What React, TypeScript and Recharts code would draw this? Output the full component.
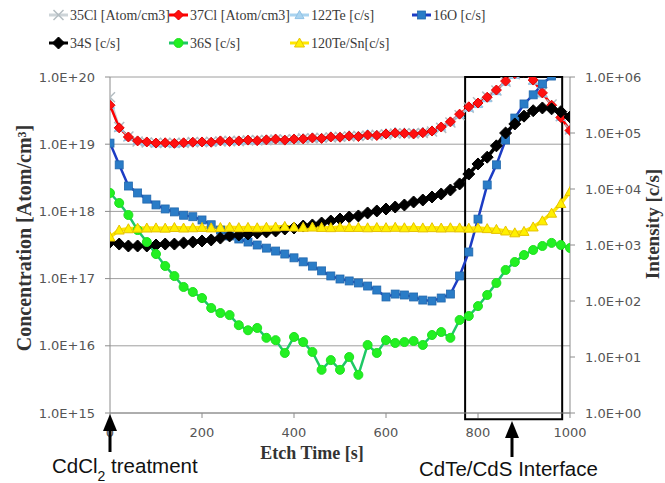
import { ComposedChart, Line, XAxis, YAxis, CartesianGrid, ReferenceArea } from 'recharts';

// etch time [s], one SIMS point every 20 s
const etchTime = [
  0, 20, 40, 60, 80, 100, 120, 140, 160, 180,
  200, 220, 240, 260, 280, 300, 320, 340, 360, 380,
  400, 420, 440, 460, 480, 500, 520, 540, 560, 580,
  600, 620, 640, 660, 680, 700, 720, 740, 760, 780,
  800, 820, 840, 860, 880, 900, 920, 940, 960, 980,
  1000,
];

// concentration [Atom/cm3], left axis
const cl35 = [
  5.0e19, 1.8e19, 1.3e19, 1.1e19, 1.06e19, 1.05e19, 1.04e19, 1.05e19, 1.04e19, 1.08e19,
  1.07e19, 1.09e19, 1.1e19, 1.12e19, 1.11e19, 1.14e19, 1.15e19, 1.15e19, 1.17e19, 1.18e19,
  1.18e19, 1.22e19, 1.22e19, 1.25e19, 1.26e19, 1.29e19, 1.3e19, 1.33e19, 1.34e19, 1.38e19,
  1.4e19, 1.44e19, 1.46e19, 1.45e19, 1.47e19, 1.55e19, 1.75e19, 2.1e19, 2.7e19, 3.5e19,
  4.2e19, 5.1e19, 6.3e19, 8.5e19, 1.1e20, 1.2e20, 9.2e19, 6.0e19, 3.9e19, 2.6e19,
  1.65e19,
];
const cl37 = [
  3.8e19, 1.75e19, 1.28e19, 1.12e19, 1.08e19, 1.04e19, 1.05e19, 1.03e19, 1.05e19, 1.07e19,
  1.08e19, 1.07e19, 1.12e19, 1.1e19, 1.12e19, 1.15e19, 1.13e19, 1.16e19, 1.19e19, 1.15e19,
  1.19e19, 1.2e19, 1.24e19, 1.22e19, 1.28e19, 1.27e19, 1.32e19, 1.3e19, 1.37e19, 1.35e19,
  1.42e19, 1.47e19, 1.45e19, 1.42e19, 1.48e19, 1.57e19, 1.8e19, 2.15e19, 2.8e19, 3.6e19,
  4.1e19, 5.0e19, 6.4e19, 8.7e19, 1.12e20, 1.18e20, 9.0e19, 5.8e19, 3.8e19, 2.5e19,
  1.6e19,
];

// intensity [c/s], right axis
const te122 = [
  3.2e5, 1.25e5, 8.5e4, 7.3e4, 7.0e4, 6.6e4, 6.7e4, 6.5e4, 6.7e4, 6.9e4,
  7.0e4, 6.9e4, 7.3e4, 7.2e4, 7.3e4, 7.6e4, 7.4e4, 7.7e4, 8.0e4, 7.6e4,
  8.0e4, 8.1e4, 8.4e4, 8.3e4, 8.8e4, 8.7e4, 9.2e4, 9.0e4, 9.6e4, 9.4e4,
  1.0e5, 1.05e5, 1.03e5, 1.0e5, 1.06e5, 1.12e5, 1.3e5, 1.6e5, 2.15e5, 2.85e5,
  3.3e5, 4.2e5, 5.6e5, 8.3e5, 1.1e6, 1.2e6, 8.6e5, 5.1e5, 3.2e5, 1.95e5,
  1.15e5,
];
const o16 = [
  6.6e4, 2.7e4, 1.13e4, 8500, 6600, 5200, 4400, 3900, 3400, 3200,
  2800, 2300, 1850, 1450, 1280, 1130, 1000, 880, 780, 690,
  590, 500, 420, 345, 280, 247, 228, 210, 185, 157,
  118, 133, 128, 118, 104, 100, 113, 133, 280, 750,
  2900, 1.18e4, 2.7e4, 7.5e4, 1.85e5, 3.3e5, 4.8e5, 7.5e5, 1.04e6, 1.6e6,
  2.5e6,
];
const s34 = [
  1130, 1040, 960, 960, 960, 1000, 1040, 1040, 1090, 1130,
  1180, 1230, 1330, 1450, 1510, 1570, 1640, 1710, 1780, 1930,
  2010, 2180, 2280, 2470, 2680, 2910, 3160, 3300, 3730, 4050,
  4390, 4770, 5180, 5860, 6360, 7200, 8150, 9600, 1.23e4, 1.85e4,
  2.8e4, 3.7e4, 5.9e4, 1.0e5, 1.45e5, 2.0e5, 2.5e5, 2.8e5, 2.7e5, 2.4e5,
  1.93e5,
];
const s36 = [
  8490, 5620, 3430, 1850, 1130, 690, 422, 279, 178, 145,
  113, 75, 61, 56, 37, 30, 33, 22, 20, 11.8,
  22.8, 18.5, 12.3, 5.9, 8.8, 5.9, 10, 4.8, 16.4, 11.8,
  20, 17.8, 18.5, 19.3, 16.4, 24.7, 27.9, 22, 45.8, 54,
  81, 128, 210, 358, 497, 662, 815, 960, 1090, 1000,
  884,
];
const te120 = [
  1390, 1850, 1950, 2000, 2010, 2020, 2000, 2050, 2010, 2030,
  2060, 2020, 2050, 2080, 2040, 2060, 2030, 2070, 2100, 2150,
  2100, 2070, 2090, 2060, 2040, 2070, 2050, 2060, 2030, 2050,
  2040, 2070, 2030, 2050, 2020, 2040, 2010, 2030, 2020, 2000,
  2010, 1960, 1900, 1780, 1650, 1750, 2100, 2700, 3700, 5500,
  9000,
];

const xTicks = [0, 200, 400, 600, 800, 1000];
const leftTicks = [1e15, 1e16, 1e17, 1e18, 1e19, 1e20];
const rightTicks = [1, 10, 100, 1e3, 1e4, 1e5, 1e6];
const interfaceRange = [772, 983];

const data = etchTime.map((t, i) => ({
  t,
  cl35: cl35[i],
  cl37: cl37[i],
  te122: te122[i],
  o16: o16[i],
  s34: s34[i],
  s36: s36[i],
  te120: te120[i],
}));

type Marker = 'x' | 'diamond' | 'triangle' | 'square' | 'circle';

interface Series {
  key: string;
  name: string;
  axis: 'left' | 'right';
  line: string;
  width: number;
  marker: Marker;
  fill: string;
  stroke: string;
  size: number;
}

// legend order
const series: Series[] = [
  { key: 'cl35', name: '35Cl [Atom/cm3]', axis: 'left', line: '#cdd4d8', width: 2, marker: 'x', fill: 'none', stroke: '#b3bcc1', size: 5 },
  { key: 'cl37', name: '37Cl [Atom/cm3]', axis: 'left', line: '#ff0000', width: 2.5, marker: 'diamond', fill: '#ff1010', stroke: '#e00000', size: 5 },
  { key: 'te122', name: '122Te [c/s]', axis: 'right', line: '#a9d3ef', width: 2, marker: 'triangle', fill: '#a9d3ef', stroke: '#8fc2e6', size: 4.5 },
  { key: 'o16', name: '16O [c/s]', axis: 'right', line: '#1c3cc4', width: 2.5, marker: 'square', fill: '#2a7cc7', stroke: '#2268ad', size: 4 },
  { key: 's34', name: '34S [c/s]', axis: 'right', line: '#000000', width: 3.5, marker: 'diamond', fill: '#000000', stroke: '#000000', size: 6 },
  { key: 's36', name: '36S [c/s]', axis: 'right', line: '#1ec865', width: 2.5, marker: 'circle', fill: '#22f022', stroke: '#1fe01f', size: 4.5 },
  { key: 'te120', name: '120Te/Sn[c/s]', axis: 'right', line: '#ffe600', width: 3.5, marker: 'triangle', fill: '#fff000', stroke: '#e6c200', size: 5 },
];

// drawing order: 122Te sits underneath the chlorine trace
const drawOrder = ['cl35', 'te122', 'cl37', 'o16', 's34', 's36', 'te120'];

function markerShape(m: Marker, cx: number, cy: number, s: number, fill: string, stroke: string, key?: string) {
  switch (m) {
    case 'x':
      return (
        <g key={key} stroke={stroke} strokeWidth={1.5}>
          <line x1={cx - s} y1={cy - s} x2={cx + s} y2={cy + s} />
          <line x1={cx - s} y1={cy + s} x2={cx + s} y2={cy - s} />
        </g>
      );
    case 'diamond':
      return (
        <polygon key={key} points={`${cx},${cy - s} ${cx + s},${cy} ${cx},${cy + s} ${cx - s},${cy}`} fill={fill} stroke={stroke} strokeWidth={1} />
      );
    case 'triangle':
      return (
        <polygon key={key} points={`${cx},${cy - s} ${cx + s},${cy + s * 0.8} ${cx - s},${cy + s * 0.8}`} fill={fill} stroke={stroke} strokeWidth={1} />
      );
    case 'square':
      return <rect key={key} x={cx - s} y={cy - s} width={s * 2} height={s * 2} fill={fill} stroke={stroke} strokeWidth={0.8} />;
    default:
      return <circle key={key} cx={cx} cy={cy} r={s} fill={fill} stroke={stroke} strokeWidth={1} />;
  }
}

function dotFor(s: Series) {
  // eslint-disable-next-line @typescript-eslint/no-explicit-any
  return (props: any) => {
    const { cx, cy, index } = props;
    const key = `${s.key}-${index}`;
    if (cx == null || cy == null || Number.isNaN(cx) || Number.isNaN(cy)) return <g key={key} />;
    return markerShape(s.marker, cx, cy, s.size, s.fill, s.stroke, key);
  };
}

function expLabel(v: number) {
  const e = Math.round(Math.log10(v));
  return `1.0E+${String(e).padStart(2, '0')}`;
}

const tickStyle = { fontSize: 13, fill: '#555', fontFamily: '"DejaVu Sans", sans-serif' };
const serif = '"Liberation Serif", "Times New Roman", serif';
const sans = '"Liberation Sans", Arial, sans-serif';

function Overlay() {
  const colX = [49, 169, 290, 412];
  return (
    <svg width={665} height={483} style={{ position: 'absolute', left: 0, top: 0, pointerEvents: 'none' }}>
      {series.map((s, i) => {
        const row = i < 4 ? 0 : 1;
        const col = i < 4 ? i : i - 4;
        const x = colX[col];
        const y = row === 0 ? 15 : 43;
        return (
          <g key={s.key}>
            <line x1={x} y1={y} x2={x + 19} y2={y} stroke={s.line} strokeWidth={3} />
            {markerShape(s.marker, x + 9.5, y, s.size, s.fill, s.stroke)}
            <text x={x + 21} y={y + 5} fontSize={14} fontFamily={serif} fill="#3a3a3a">
              {s.name}
            </text>
          </g>
        );
      })}

      <text
        x={24}
        y={238}
        transform="rotate(-90, 24, 238)"
        textAnchor="middle"
        dominantBaseline="central"
        fontSize={20}
        fontWeight="bold"
        fontFamily={serif}
        fill="#333"
      >
        Concentration [Atom/cm³]
      </text>
      <text
        x={652}
        y={224}
        transform="rotate(-90, 652, 224)"
        textAnchor="middle"
        dominantBaseline="central"
        fontSize={19}
        fontWeight="bold"
        fontFamily={serif}
        fill="#333"
      >
        Intensity [c/s]
      </text>
      <text x={312} y={459} textAnchor="middle" fontSize={18} fontWeight="bold" fontFamily={serif} fill="#333">
        Etch Time [s]
      </text>

      {/* CdCl2 arrow */}
      <polygon points="110,414 103,431 117,431" fill="#000" />
      <rect x={108.5} y={430} width={3} height={22} fill="#000" />
      <text x={52} y={473} fontSize={20.5} fontFamily={sans} fill="#111">
        CdCl<tspan dy={8} fontSize={14}>2</tspan>
        <tspan dy={-8}> treatment</tspan>
      </text>

      {/* interface arrow */}
      <polygon points="512,421 505,438 519,438" fill="#000" />
      <rect x={510.5} y={437} width={3} height={20} fill="#000" />
      <text x={419} y={476} fontSize={20.5} fontFamily={sans} fill="#111">
        CdTe/CdS Interface
      </text>
    </svg>
  );
}

export default function App() {
  const byKey = Object.fromEntries(series.map((s) => [s.key, s]));
  return (
    <div style={{ position: 'absolute', left: 0, top: 0, width: 665, height: 483, background: '#fff' }}>
      <ComposedChart width={665} height={483} data={data} margin={{ top: 77, right: 0, bottom: 40, left: 0 }}>
        <CartesianGrid yAxisId="left" vertical={false} stroke="#9e9e9e" strokeWidth={1} />
        <XAxis
          dataKey="t"
          type="number"
          domain={[0, 1000]}
          ticks={xTicks}
          height={30}
          stroke="#8c8c8c"
          tickSize={5}
          tickMargin={10}
          tick={tickStyle}
          allowDataOverflow
        />
        <YAxis
          yAxisId="left"
          scale="log"
          domain={[1e15, 1e20]}
          ticks={leftTicks}
          allowDataOverflow
          width={110}
          stroke="#8c8c8c"
          tickSize={5}
          tickMargin={10}
          tick={tickStyle}
          tickFormatter={expLabel}
        />
        <YAxis
          yAxisId="right"
          orientation="right"
          scale="log"
          domain={[1, 1e6]}
          ticks={rightTicks}
          allowDataOverflow
          width={95}
          stroke="#8c8c8c"
          tickSize={5}
          tickMargin={10}
          tick={tickStyle}
          tickFormatter={expLabel}
        />
        {drawOrder.map((k) => {
          const s = byKey[k];
          return (
            <Line
              key={s.key}
              yAxisId={s.axis}
              dataKey={s.key}
              name={s.name}
              type="linear"
              stroke={s.line}
              strokeWidth={s.width}
              dot={dotFor(s)}
              activeDot={false}
              isAnimationActive={false}
            />
          );
        })}
        <ReferenceArea
          yAxisId="left"
          x1={interfaceRange[0]}
          x2={interfaceRange[1]}
          y1={8.1e14}
          y2={1e20}
          fill="none"
          stroke="#000"
          strokeWidth={2}
          ifOverflow="visible"
        />
      </ComposedChart>
      <Overlay />
    </div>
  );
}
